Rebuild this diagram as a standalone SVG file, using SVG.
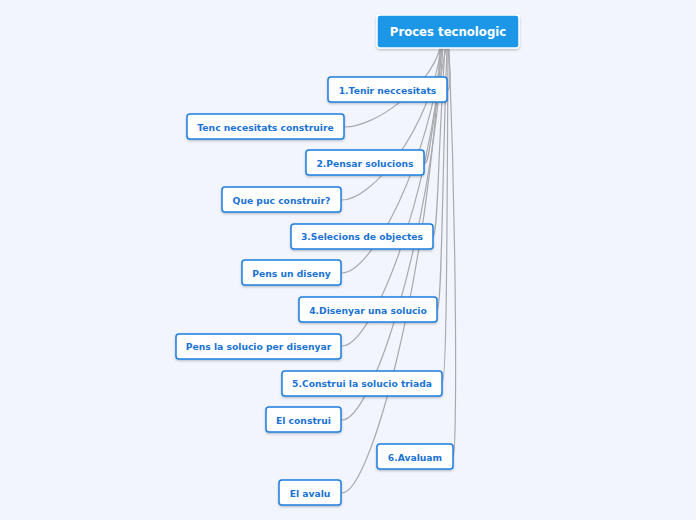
<svg xmlns="http://www.w3.org/2000/svg" width="696" height="520" viewBox="0 0 696 520">
<defs>
<filter id="sh" x="-10%" y="-20%" width="120%" height="150%">
<feDropShadow dx="0" dy="1.2" stdDeviation="0.8" flood-color="#000" flood-opacity="0.25"/>
</filter>
<style>
.bg{fill:#f2f5fd}
.node rect{fill:#ffffff;stroke:#1d7fdf;stroke-width:1.5;filter:url(#sh)}
.node text{font-family:"DejaVu Sans",Verdana,sans-serif;font-weight:bold;font-size:9.2px;fill:#1a73d4;text-anchor:middle;dominant-baseline:central}
#root rect{fill:#1f97e8;stroke:#ffffff;stroke-width:1.5}
#root text{font-family:"DejaVu Sans",Verdana,sans-serif;font-weight:bold;font-size:11.7px;fill:#ffffff;text-anchor:middle;dominant-baseline:central}
.conn path{fill:none;stroke:#a9aaad;stroke-width:1.2}
</style>
</defs>
<rect class="bg" x="0" y="0" width="696" height="520"/>
<g class="conn" id="connectors">
<path d="M447 90 C451 90,451 80,448 48"/>
<path d="M345 127 C375 127,430 87,440 48"/>
<path d="M425 163 C430 163,430 130,446 48"/>
<path d="M342 200 C372 200,430 130,441 48"/>
<path d="M433 236 C438 236,438 150,445 48"/>
<path d="M342 273 C372 273,430 160,442 48"/>
<path d="M437 310 C442 310,442 180,447 48"/>
<path d="M342 346 C372 346,430 200,442 48"/>
<path d="M442 383 C447 383,447 220,448 48"/>
<path d="M342 420 C372 420,430 240,443 48"/>
<path d="M453 457 C457 457,457 250,449 48"/>
<path d="M342 493 C371 493,430 270,440 48"/>
</g>
<g id="root" class="node"><rect x="377" y="15" width="142" height="33" rx="3"/><text x="448" y="32">Proces tecnologic</text></g>
<g id="n1" class="node"><rect x="328" y="77" width="119" height="25" rx="3"/><text x="387.5" y="90">1.Tenir neccesitats</text></g>
<g id="n1a" class="node"><rect x="187" y="114" width="157" height="25" rx="3"/><text x="265.5" y="127">Tenc necesitats construire</text></g>
<g id="n2" class="node"><rect x="306" y="150" width="118" height="25" rx="3"/><text x="365" y="163">2.Pensar solucions</text></g>
<g id="n2a" class="node"><rect x="222" y="187" width="119" height="25" rx="3"/><text x="281.5" y="200">Que puc construir?</text></g>
<g id="n3" class="node"><rect x="291" y="224" width="142" height="25" rx="3"/><text x="362" y="236.5">3.Selecions de objectes</text></g>
<g id="n3a" class="node"><rect x="242" y="260" width="99" height="25" rx="3"/><text x="291.5" y="273">Pens un diseny</text></g>
<g id="n4" class="node"><rect x="299" y="297" width="138" height="25" rx="3"/><text x="368" y="310">4.Disenyar una solucio</text></g>
<g id="n4a" class="node"><rect x="176" y="334" width="165" height="25" rx="3"/><text x="258.5" y="346.5">Pens la solucio per disenyar</text></g>
<g id="n5" class="node"><rect x="282" y="371" width="160" height="25" rx="3"/><text x="362" y="383.5">5.Construi la solucio triada</text></g>
<g id="n5a" class="node"><rect x="266" y="407" width="75" height="25" rx="3"/><text x="303.5" y="420">El construi</text></g>
<g id="n6" class="node"><rect x="377" y="444" width="76" height="25" rx="3"/><text x="415" y="457">6.Avaluam</text></g>
<g id="n6a" class="node"><rect x="279" y="480" width="62" height="25" rx="3"/><text x="310" y="493">El avalu</text></g>
</svg>
